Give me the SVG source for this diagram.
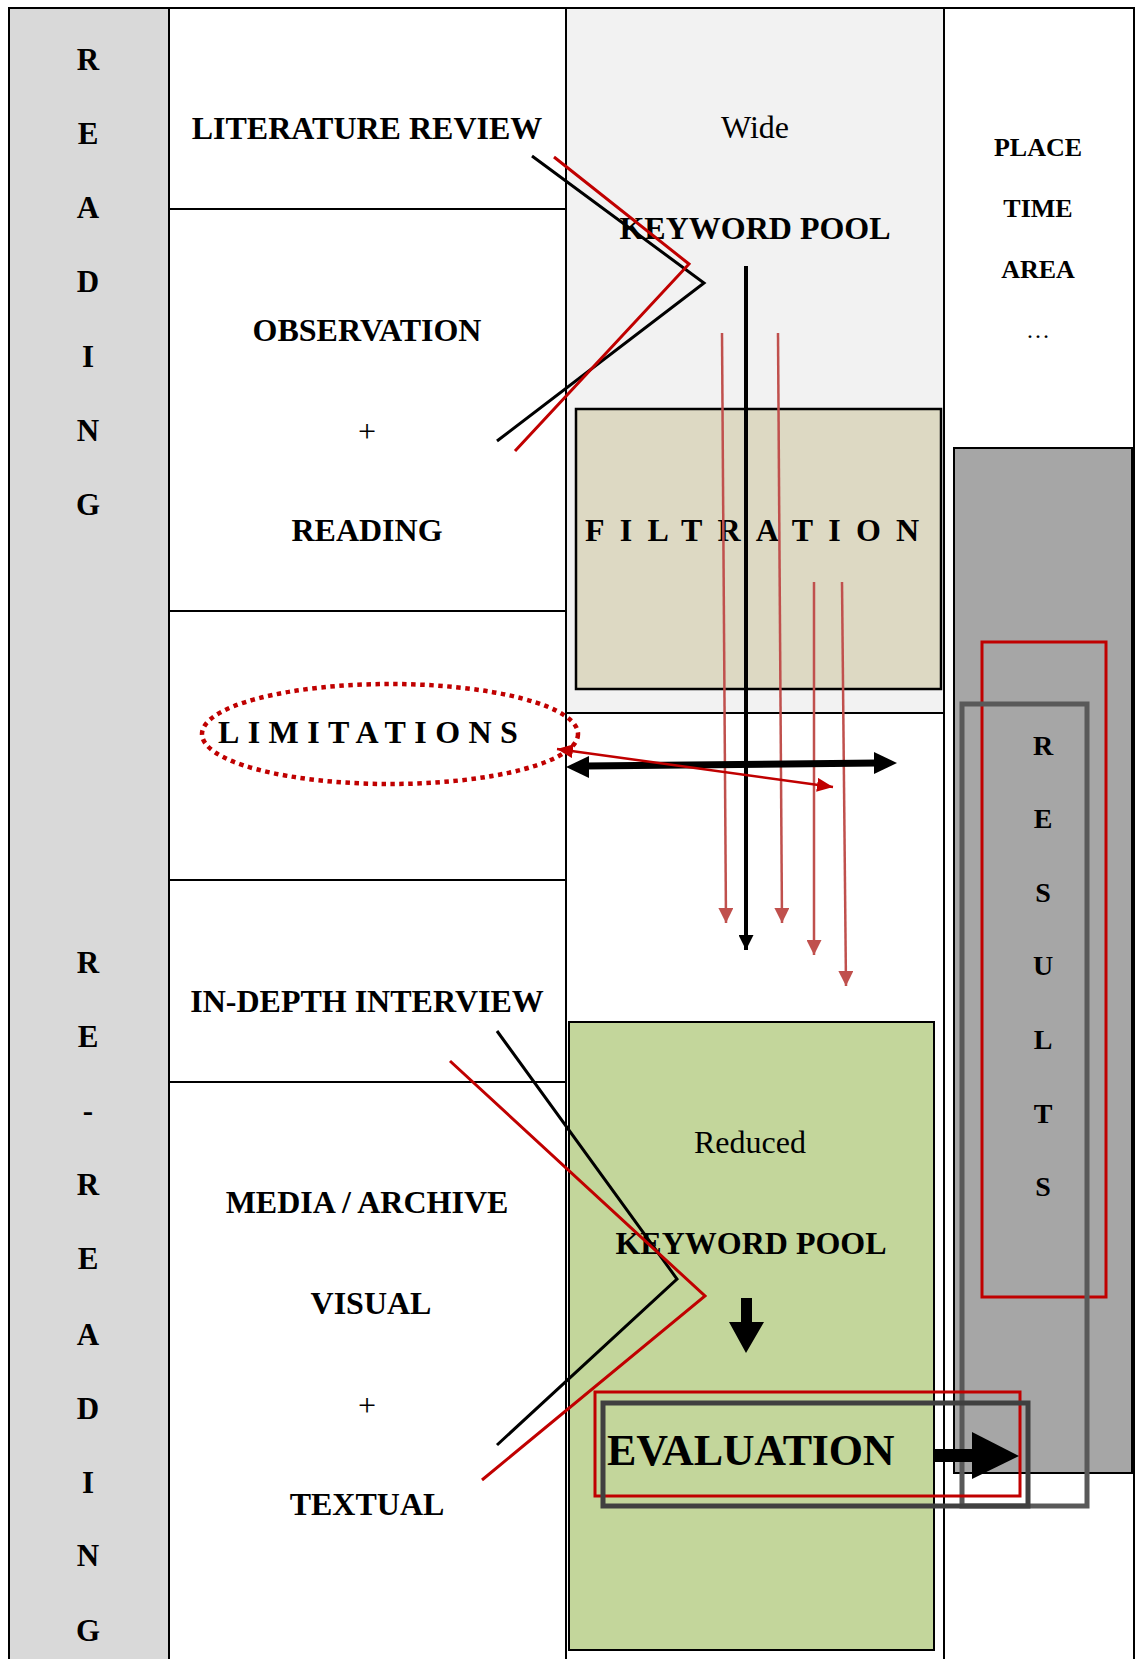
<svg xmlns="http://www.w3.org/2000/svg" width="1135" height="1659" viewBox="0 0 1135 1659">
<style>
.t{font-family:"Liberation Serif","Times New Roman",serif;fill:#000}
.b{font-weight:bold}
.lab{font-size:32px;font-weight:bold;text-anchor:middle}
.reg{font-size:32px;text-anchor:middle}
.side{font-size:31px;font-weight:bold;text-anchor:middle}
.res{font-size:28px;font-weight:bold;text-anchor:middle}
.small{font-size:26px;font-weight:bold;text-anchor:middle}
.grid{stroke:#000;stroke-width:2;fill:none}
.thinred{stroke:#c0504d;stroke-width:2.5;fill:none}
.chevk{stroke:#000;stroke-width:3;fill:none}
.chevr{stroke:#c00000;stroke-width:3;fill:none}
</style>
<defs>
<marker id="ar" markerUnits="userSpaceOnUse" markerWidth="15" markerHeight="15" refX="15" refY="7.5" orient="auto" viewBox="0 0 15 15"><path d="M0,0 L15,7.5 L0,15 z" fill="#c0504d"/></marker>
<marker id="ak" markerUnits="userSpaceOnUse" markerWidth="15" markerHeight="15" refX="15" refY="7.5" orient="auto" viewBox="0 0 15 15"><path d="M0,0 L15,7.5 L0,15 z" fill="#000"/></marker>
<marker id="ard" markerUnits="userSpaceOnUse" markerWidth="16" markerHeight="14" refX="16" refY="7" orient="auto-start-reverse" viewBox="0 0 16 14"><path d="M0,0 L16,7 L0,14 z" fill="#c00000"/></marker>
</defs>
<rect x="0" y="0" width="1135" height="1659" fill="#fff"/>

<g id="reading-column">
<rect x="9" y="8" width="160" height="1660" fill="#d9d9d9" stroke="#000" stroke-width="2"/>
<text class="t side" x="88" y="70">R</text>
<text class="t side" x="88" y="144">E</text>
<text class="t side" x="88" y="218">A</text>
<text class="t side" x="88" y="292">D</text>
<text class="t side" x="88" y="367">I</text>
<text class="t side" x="88" y="441">N</text>
<text class="t side" x="88" y="515">G</text>
<text class="t side" x="88" y="973">R</text>
<text class="t side" x="88" y="1047">E</text>
<text class="t side" x="88" y="1121">-</text>
<text class="t side" x="88" y="1195">R</text>
<text class="t side" x="88" y="1269">E</text>
<text class="t side" x="88" y="1345">A</text>
<text class="t side" x="88" y="1419">D</text>
<text class="t side" x="88" y="1493">I</text>
<text class="t side" x="88" y="1566">N</text>
<text class="t side" x="88" y="1641">G</text>
</g>

<g id="sources-column">
<rect x="169" y="8" width="397" height="1660" fill="#fff" stroke="#000" stroke-width="2"/>
<line class="grid" x1="169" y1="209" x2="566" y2="209"/>
<line class="grid" x1="169" y1="611" x2="566" y2="611"/>
<line class="grid" x1="169" y1="880" x2="566" y2="880"/>
<line class="grid" x1="169" y1="1082" x2="566" y2="1082"/>
</g>

<g id="literature-review"><text class="t lab" x="367" y="139">LITERATURE REVIEW</text></g>
<g id="observation-reading">
<text class="t lab" x="367" y="341">OBSERVATION</text>
<text class="t reg" x="367" y="442">+</text>
<text class="t lab" x="367" y="541">READING</text>
</g>

<g id="keyword-column">
<rect x="566" y="8" width="378" height="705" fill="#f2f2f2" stroke="#000" stroke-width="2"/>
<rect x="566" y="713" width="378" height="955" fill="#fff" stroke="#000" stroke-width="2"/>
</g>

<g id="limitations">
<ellipse cx="390" cy="734" rx="188" ry="50" fill="none" stroke="#c00000" stroke-width="4.5" stroke-dasharray="4.5 4.5"/>
<text class="t b" x="218" y="743" font-size="32" letter-spacing="8.4">LIMITATIONS</text>
</g>
<g id="in-depth-interview"><text class="t lab" x="367" y="1012">IN-DEPTH INTERVIEW</text></g>
<g id="media-archive">
<text class="t lab" x="367" y="1213">MEDIA / ARCHIVE</text>
<text class="t lab" x="371" y="1314">VISUAL</text>
<text class="t reg" x="367" y="1416">+</text>
<text class="t lab" x="367" y="1515">TEXTUAL</text>
</g>

<g id="wide-keyword-pool">
<text class="t reg" x="755" y="138">Wide</text>
<text class="t lab" x="755" y="239">KEYWORD POOL</text>
</g>
<g id="filtration">
<rect x="576" y="409" width="365" height="280" fill="#ddd9c3" stroke="#000" stroke-width="2.5"/>
<text class="t b" x="585" y="541" font-size="32" letter-spacing="15.2">FILTRATION</text>
</g>
<g id="reduced-keyword-pool">
<rect x="569" y="1022" width="365" height="628" fill="#c3d69b" stroke="#000" stroke-width="2"/>
<text class="t reg" x="750" y="1153" font-size="31">Reduced</text>
<text class="t lab" x="751" y="1254">KEYWORD POOL</text>
<polygon points="741,1298 752,1298 752,1322 764,1322 746,1353 729,1322 741,1322" fill="#000"/>
</g>

<g id="context-column">
<rect x="944" y="8" width="190" height="1660" fill="#fff" stroke="#000" stroke-width="2"/>
<text class="t small" x="1038" y="156">PLACE</text>
<text class="t small" x="1038" y="217">TIME</text>
<text class="t small" x="1038" y="278">AREA</text>
<text class="t" x="1038" y="338" font-size="24" text-anchor="middle">…</text>
</g>
<g id="results">
<rect x="954" y="448" width="178" height="1025" fill="#a6a6a6" stroke="#000" stroke-width="2"/>
<rect x="982" y="642" width="124" height="655" fill="none" stroke="#c00000" stroke-width="3"/>
<rect x="962" y="704" width="125" height="802" fill="none" stroke="#595959" stroke-width="5"/>
<text class="t res" x="1043" y="755">R</text>
<text class="t res" x="1043" y="828">E</text>
<text class="t res" x="1043" y="902">S</text>
<text class="t res" x="1043" y="975">U</text>
<text class="t res" x="1043" y="1049">L</text>
<text class="t res" x="1043" y="1123">T</text>
<text class="t res" x="1043" y="1196">S</text>
</g>
<g id="evaluation">
<rect x="595" y="1392" width="425" height="104" fill="none" stroke="#c00000" stroke-width="3"/>
<rect x="603" y="1403" width="425" height="103" fill="none" stroke="#404040" stroke-width="5"/>
<text class="t b" x="607" y="1465" font-size="44" letter-spacing="-0.2">EVALUATION</text>
</g>

<g id="connectors">
<polyline class="chevk" points="532,156 704,283 497,441"/>
<polyline class="chevr" points="554,157 689,264 515,451"/>
<polyline class="chevk" points="497,1031 677,1279 497,1445"/>
<polyline class="chevr" points="450,1061 705,1296 482,1480"/>
<line x1="746" y1="266" x2="746" y2="950" stroke="#000" stroke-width="4" marker-end="url(#ak)"/>
<line class="thinred" x1="722" y1="333" x2="726" y2="923" marker-end="url(#ar)"/>
<line class="thinred" x1="778" y1="333" x2="782" y2="923" marker-end="url(#ar)"/>
<line class="thinred" x1="814" y1="582" x2="814" y2="955" marker-end="url(#ar)"/>
<line class="thinred" x1="842" y1="582" x2="846" y2="986" marker-end="url(#ar)"/>
<line x1="585" y1="766" x2="878" y2="763" stroke="#000" stroke-width="7"/>
<polygon points="566,767 589,756 589,778" fill="#000"/>
<polygon points="897,763 874,752 874,774" fill="#000"/>
<line x1="557" y1="749" x2="833" y2="787" stroke="#c00000" stroke-width="2.5" marker-start="url(#ard)" marker-end="url(#ard)"/>
<rect x="934" y="1449" width="40" height="13" fill="#000"/>
<polygon points="972,1432 1019,1456 972,1479" fill="#000"/>
</g>
</svg>
